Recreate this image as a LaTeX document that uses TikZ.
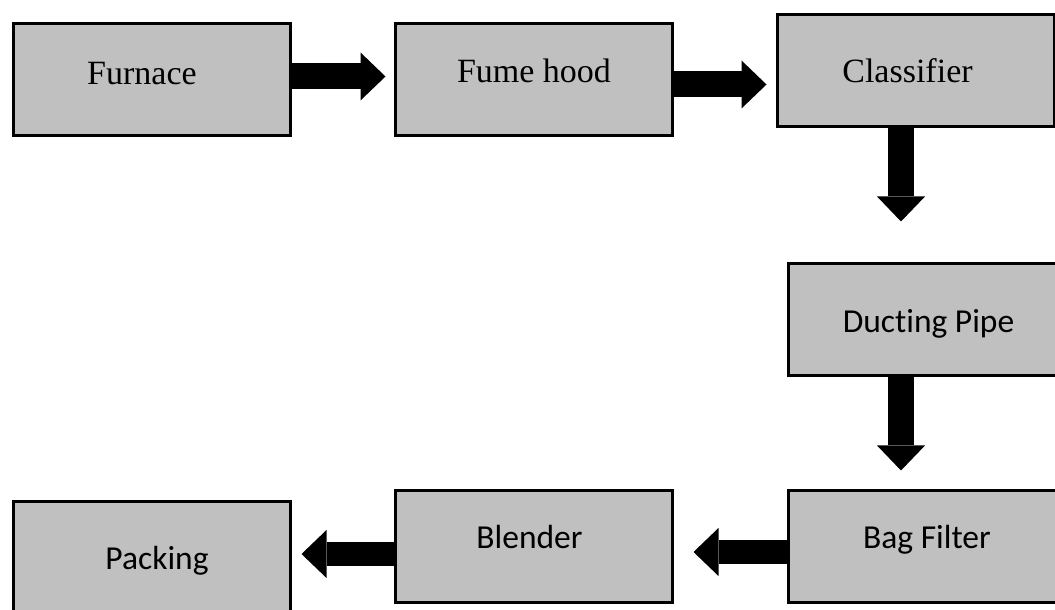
\documentclass[tikz,border=0pt]{standalone}
\usepackage{fontspec}
\setmainfont{Liberation Serif}
\newfontfamily\calibri[Ligatures=NoCommon]{Carlito}
\usepackage{xcolor}
\definecolor{BoxFill}{RGB}{192,192,192}
\usepackage{tikz}
\usetikzlibrary{arrows.meta}
\tikzstyle{Box}=[rectangle,draw=black,fill=BoxFill,line width=3pt,
minimum width=277pt,minimum height=112pt,inner sep=0pt]
\tikzstyle{Serif}=[inner sep=0pt,text height=24pt,text depth=0pt,
font=\fontsize{34}{38}\selectfont]
\tikzstyle{Sans}=[inner sep=0pt,text height=24pt,text depth=0pt,
font=\calibri\fontsize{33.5}{38}\selectfont]
\tikzstyle{Flow}=[draw=black,line width=26pt,
-{Triangle[width=48pt,length=25pt,line width=0pt]}]

\begin{document}
\begin{tikzpicture}[x=1pt,y=1pt]
        \useasboundingbox (0,0) rectangle (1055,610);
        \node[Box,label={[Serif,xshift=-10pt,yshift=7.7pt]center:Furnace}](Furnace)at(152.00,530.00){};
        \node[Box,label={[Serif,yshift=9.2pt]center:Fume hood}](Hood)at(534.00,530.00){};
        \node[Box,label={[Serif,xshift=-8.5pt,yshift=-0.2pt]center:Classifier}](Classifier)at(916.00,539.50){};
        \node[Box,label={[Sans,xshift=1.5pt,yshift=-0.8pt]center:Ducting Pipe}](Ducting)at(927.00,290.50){};
        \node[Box,label={[Sans,yshift=10.2pt]center:Bag Filter}](Bag)at(927.00,63.50){};
        \node[Box,label={[Sans,xshift=-4pt,yshift=10.2pt]center:Blender}](Blender)at(533.50,63.50){};
        \node[Box,label={[Sans,xshift=5pt,yshift=-0.5pt]center:Packing}](Packing)at(152.00,52.50){};
        \draw[Flow,shorten >=8.5pt]([yshift=3.5pt]Furnace.east)--([yshift=3.5pt]Hood.west);
        \draw[Flow,shorten >=9.5pt]([yshift=-4.5pt]Hood.east)--([yshift=-14pt]Classifier.west);
        \draw[Flow,shorten >=40.5pt]([xshift=-15pt]Classifier.south)--([xshift=-26pt]Ducting.north);
        \draw[Flow,shorten >=18.5pt]([xshift=-26pt]Ducting.south)--([xshift=-26pt]Bag.north);
        \draw[Flow,line width=24pt,shorten >=20pt]([yshift=-5.5pt]Bag.west)--([yshift=-5.5pt]Blender.east);
        \draw[Flow,line width=24pt,shorten >=9.5pt]([yshift=-7.5pt]Blender.west)--([yshift=3.5pt]Packing.east);
    \end{tikzpicture}
\end{document}
